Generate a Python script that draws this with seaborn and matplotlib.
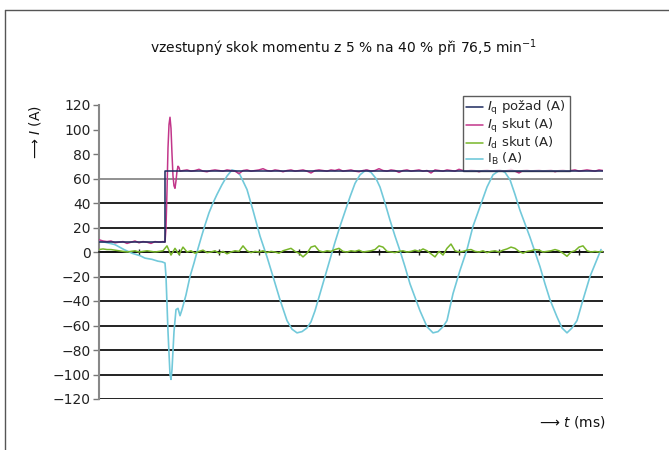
import numpy as np
import pandas as pd
import matplotlib
matplotlib.use("Agg")
import matplotlib.pyplot as plt
from matplotlib.lines import Line2D
import seaborn as sns

# ---------------- data ----------------
# I_q požad (reference): step from ~8 A to ~66 A
iq_ref_t = [0, 82.5, 82.5, 630]
iq_ref_v = [8, 8, 66, 66]

# I_q skut (actual) - before the step, the transient, then steady state every 5 ms
iq_pre_t = [0, 5, 10, 15, 20, 25, 30, 35, 40, 45, 50, 55, 60, 65, 70, 75, 80, 82.5]
iq_pre_v = [10, 9, 8.5, 9, 7.5, 8, 8.5, 7, 8, 9, 7.5, 8.5, 8, 7, 8.5, 8, 8.5, 8]
iq_tr_t = [83.75, 85, 86.25, 87.5, 88.75, 90, 91.25, 92.5, 93.75, 95, 96.25, 97.5, 98.75, 100, 101.25]
iq_tr_v = [20, 50, 85, 104, 110, 101, 80, 62, 54, 52, 58, 66, 70, 69, 66]
iq_post_v = [66.5, 67, 66, 66.5, 67.5, 66, 65.5, 66.5, 67, 66.5, 66, 67, 66.5, 66, 64, 66.5,
             67, 66, 66.5, 67, 68, 66.5, 66, 67, 66.5, 65.5, 66.5, 67, 66, 66.5, 67, 66,
             64.5, 66.5, 67, 66.5, 66, 67, 66.5, 67.5, 66, 66.5, 67, 66, 65.5, 66.5, 67, 66,
             66.5, 68, 66.5, 66, 67, 66.5, 65, 66.5, 67, 66, 66.5, 67, 66, 66.5, 64.5, 67,
             66.5, 66, 67, 66.5, 66, 67.5, 66.5, 66, 67, 66.5, 65.5, 66.5, 67, 66, 66.5, 67,
             66, 66.5, 67.5, 66, 64.5, 66.5, 67, 66, 66.5, 67, 66, 66.5, 67, 65.5, 66.5, 67,
             66, 66.5, 67, 66, 66.5, 67, 66.5, 66, 67, 66.5]

# I_d skut, sampled every 5 ms
id_v = [2, 2.5, 2, 2, 1.5, 1, 0.5, 0, 0.5, 1, 0, 0.5, 1, 0.5, 0, 0.5, 1,
        5, -2.5, 3, -2, 4, 0, 1, -1, 0.5, 1.5, -0.5, 0, 1, -1, 0.5, -1.5, 0, 1, 0.5,
        5, 1, -0.5, 0.5, 0, 1, -0.5, 0.5, 0, -1, 1, 2, 3, 0.5, -1, -4, -1, 4, 5, 1,
        0, 1, 0.5, 2, 3, 0.5, 0, 1, 0.5, 1.5, 0, 0.5, 1, 2, 5, 4, 0.5, 0, -0.5, 0.5,
        1, 0, 0.5, 1.5, 0.5, 2.5, 1, -1.5, -4, 0.5, -2.5, 3, 6.5, 1, 0, 0.5, 1.5, 2,
        0.5, 0, 1, -0.5, 0.5, 1, 0, 1.5, 2.5, 4, 3, 0.5, -1, 0.5, 1, 2, 1.5, 0, 0.5,
        1, 2, 1, -1, -3.5, 0, 1, 4, 5, 1, 0, 0.5, 0, 0.5]

# I_B (phase current)
ib_t = [0, 7.5, 20, 31.25, 41.25, 51.25, 57.5, 66.25, 73.75, 78.75, 82.5, 83.75, 86.25,
        88.75, 90, 91.25, 93.75, 96.25, 98.75, 101.25, 103.75, 108.75, 113.75, 118.75,
        122.5, 128.75, 132.5, 137.5, 142.5, 147.5, 153.75, 160, 166.25, 171.25, 176.25,
        185, 192.5, 201.25, 210, 217.5, 226.25, 235, 241.25, 247.5, 253.75, 260, 265,
        270, 276.25, 282.5, 288.75, 295, 301.25, 307.5, 313.75, 320, 326.25, 333.75, 340,
        346.25, 351.25, 357.5, 363.75, 370, 376.25, 382.5, 388.75, 395, 401.25, 410,
        417.5, 423.75, 430, 435, 442.5, 451.25, 460, 467.5, 476.25, 485, 492.5, 501.25,
        507.5, 513.75, 520, 526.25, 532.5, 538.75, 545, 551.25, 557.5, 563.75, 572.5,
        578.75, 585, 591.25, 597.5, 605, 613.75, 622.5, 627.5]
ib_v = [9, 8, 6, 2, -1, -3, -5, -6, -7.5, -8, -9, -20, -65,
        -100, -104, -96, -65, -47, -46, -52, -47, -35, -20, -9,
        0, 14, 22, 32, 40, 47, 55, 62, 67, 66, 63,
        51, 34, 13, -4, -20, -39, -56, -63, -66, -65, -62, -57,
        -48, -34, -20, -6, 8, 21, 33, 45, 56, 63, 67, 65,
        60, 53, 40, 26, 13, 1, -12, -26, -37, -48, -61,
        -66, -65, -61, -56, -34, -15, 2, 21, 37, 53, 63, 67,
        65, 59, 47, 34, 23, 12, 0, -12, -26, -39, -53,
        -62, -66, -62, -56, -39, -20, -6, 2]

series_names = ["$I_\\mathrm{q}$ požad (A)", "$I_\\mathrm{q}$ skut (A)",
                "$I_\\mathrm{d}$ skut (A)", "I$_\\mathrm{B}$ (A)"]
y_ticks = list(range(-120, 121, 20))
grid_levels = [-120, -100, -80, -60, -40, -20, 0, 20, 40, 60]
x_ticks = list(range(50, 630, 50))
title = "vzestupný skok momentu z 5 % na 40 % při 76,5 min$^{-1}$"

# ---------------- assemble ----------------
iq_post_t = np.arange(len(iq_post_v)) * 5 + 105
iq_t = np.concatenate([iq_pre_t, iq_tr_t, iq_post_t])
iq_v = np.concatenate([iq_pre_v, iq_tr_v, iq_post_v])
id_t = np.arange(len(id_v)) * 5

# ---------------- style ----------------
sns.set_theme(style="white")
plt.rcParams["font.family"] = ["DejaVu Sans"]
plt.rcParams["mathtext.fontset"] = "dejavusans"

colors = ["#1c2a5e", "#c2368a", "#78b62a", "#72c9da"]

fig = plt.figure(figsize=(6.69, 4.5), dpi=100)
ax = fig.add_axes([99 / 669, 1 - 399 / 450, (603 - 99) / 669, (399 - 105) / 450])

for lv in grid_levels:
    ax.axhline(lv, color="#888888" if lv == 60 else "#111111", lw=1.3, zorder=1)

sns.lineplot(x=ib_t, y=ib_v, ax=ax, color=colors[3], lw=1.2, sort=False,
             estimator=None, label=series_names[3], zorder=3)
sns.lineplot(x=id_t, y=id_v, ax=ax, color=colors[2], lw=1.1, sort=False,
             estimator=None, label=series_names[2], zorder=4)
sns.lineplot(x=iq_t, y=iq_v, ax=ax, color=colors[1], lw=1.1, sort=False,
             estimator=None, label=series_names[1], zorder=5)
sns.lineplot(x=iq_ref_t, y=iq_ref_v, ax=ax, color=colors[0], lw=1.1, sort=False,
             estimator=None, label=series_names[0], zorder=6)

ax.set_xlim(0, 630)
ax.set_ylim(-120, 120)
ax.set_yticks(y_ticks)
ax.set_yticklabels([str(v).replace("-", "\u2212") for v in y_ticks])
ax.set_xticks(x_ticks)
ax.set_xticklabels([])
ax.tick_params(axis="y", direction="out", length=4, width=1, color="#777777",
               labelsize=10, labelcolor="#222222", pad=2, left=True)
ax.tick_params(axis="x", direction="inout", length=4, width=1, color="#222222",
               bottom=True)
for s in ["top", "right"]:
    ax.spines[s].set_visible(False)
ax.spines["left"].set_color("#888888")
ax.spines["left"].set_linewidth(1.5)
ax.spines["bottom"].set_position(("data", 0))
ax.spines["bottom"].set_color("#111111")
ax.spines["bottom"].set_linewidth(1.2)
ax.set_xlabel("")
ax.set_ylabel("")

handles, labels = ax.get_legend_handles_labels()
order = [labels.index(n) for n in series_names]
leg = ax.legend([handles[i] for i in order], [labels[i] for i in order],
                loc="upper left", bbox_to_anchor=(463 / 669, 1 - 96 / 450),
                bbox_transform=fig.transFigure, frameon=True, fancybox=False,
                edgecolor="#333333", fontsize=9.5, handlelength=1.3,
                handletextpad=0.3, labelspacing=0.0, borderpad=0.25,
                borderaxespad=0)
leg.get_frame().set_linewidth(1.0)

fig.text(344 / 669, 1 - 48 / 450, title, ha="center", va="center", fontsize=10,
         color="#111111")
fig.text(35 / 669, 1 - 132 / 450, "\u27f6 $I$ (A)", rotation=90, ha="center",
         va="center", fontsize=10, color="#111111")
fig.text(605 / 669, 1 - 422 / 450, "\u27f6 $t$ (ms)", ha="right", va="center",
         fontsize=10, color="#111111")

fig.add_artist(Line2D([5 / 669, 1.0], [1 - 10 / 450, 1 - 10 / 450],
                      transform=fig.transFigure, color="#555555", lw=1.0))
fig.add_artist(Line2D([5 / 669, 5 / 669], [0, 1 - 10 / 450],
                      transform=fig.transFigure, color="#555555", lw=1.0))

fig.savefig("out.png", dpi=100)
